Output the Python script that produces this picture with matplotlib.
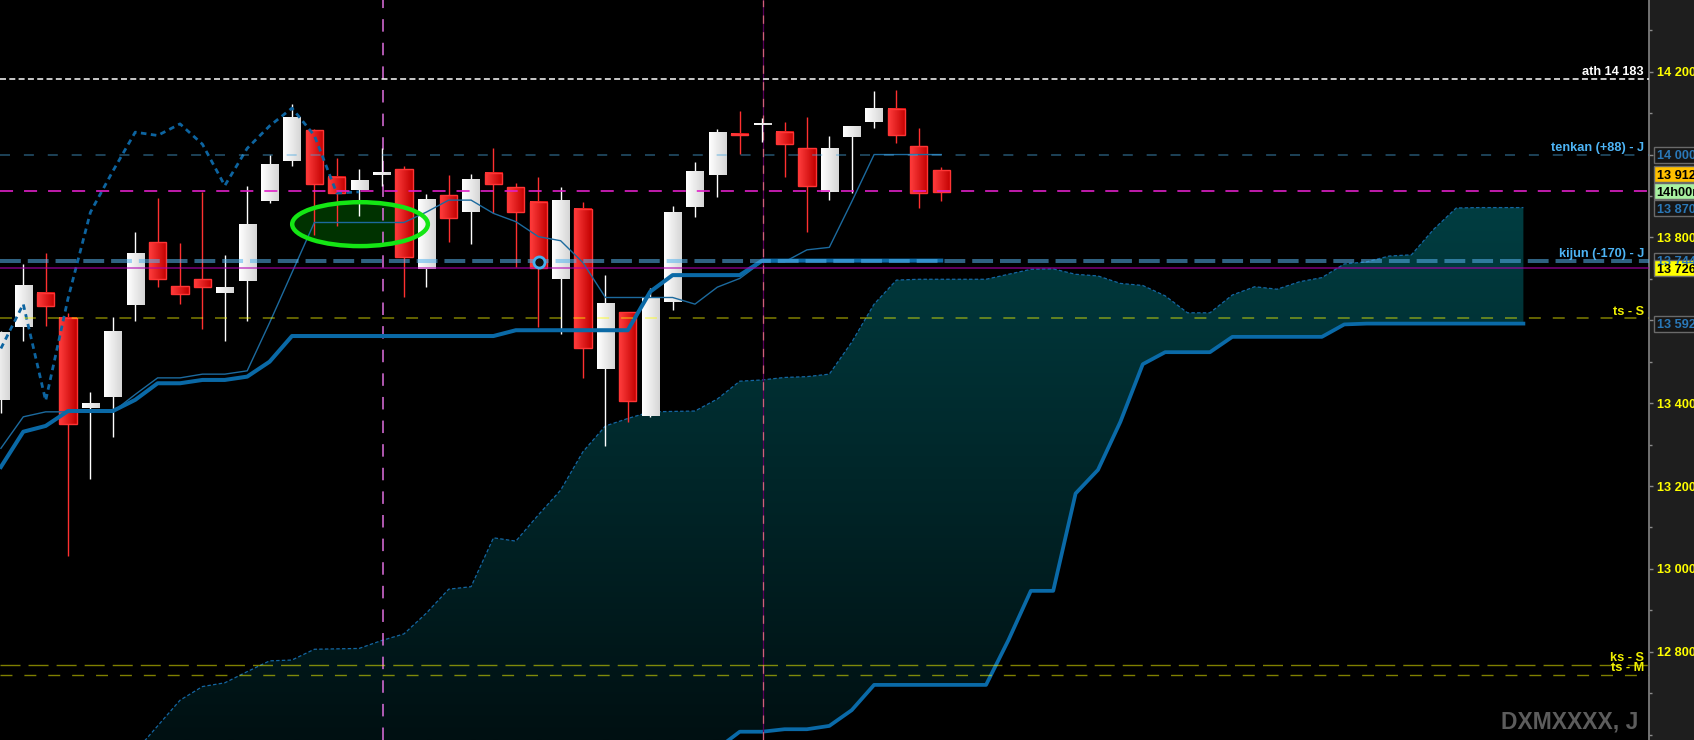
import numpy as np
import matplotlib
matplotlib.use('Agg')
import matplotlib.pyplot as plt
from matplotlib.patches import Rectangle, Ellipse
import matplotlib.transforms as mtransforms
from matplotlib.colors import LinearSegmentedColormap
from matplotlib.ticker import FuncFormatter, MultipleLocator

plt.rcParams['font.family'] = ['Liberation Sans', 'DejaVu Sans']
plt.rcParams['font.weight'] = 'bold'
plt.rcParams['lines.scale_dashes'] = False

# ---------------- data ----------------
opens = [13408, 13584, 13667, 13605, 13388, 13415, 13637, 13788, 13682, 13699,
         13667, 13695, 13889, 13985, 14059, 13947, 13915, 13951, 13964, 13723,
         13902, 13862, 13955, 13921, 13885, 13700, 13868, 13482, 13619, 13370,
         13645, 13874, 13951, 14050, 14073, 14054, 14015, 13910, 14043, 14079,
         14109, 14020, 13962]
highs = [13575, 13736, 13762, 13617, 13426, 13607, 13812, 13894, 13786, 13909,
         13757, 13924, 13999, 14122, 14062, 13991, 13965, 14017, 13972, 13905,
         13951, 13952, 14015, 13931, 13945, 13921, 13885, 13709, 13620, 13677,
         13876, 13983, 14061, 14105, 14088, 14078, 14090, 14045, 14069, 14153,
         14156, 14063, 13970]
lows = [13377, 13551, 13587, 13031, 13218, 13319, 13599, 13680, 13639, 13578,
        13551, 13599, 13884, 13972, 13806, 13828, 13852, 13924, 13657, 13680,
        13790, 13783, 13858, 13729, 13584, 13567, 13461, 13297, 13355, 13367,
        13625, 13850, 13898, 14001, 14030, 13947, 13814, 13890, 13906, 14065,
        14027, 13872, 13889]
closes = [13572, 13683, 13635, 13349, 13398, 13574, 13762, 13700, 13663, 13680,
          13680, 13832, 13977, 14091, 13930, 13908, 13939, 13958, 13753, 13890,
          13848, 13941, 13928, 13861, 13725, 13890, 13532, 13639, 13406, 13653,
          13861, 13960, 14054, 14046, 14074, 14025, 13925, 14015, 14069, 14112,
          14046, 13907, 13910]

tenkan = [13291, 13367, 13379, 13379, 13379, 13379, 13421, 13461, 13461, 13470,
          13470, 13478, 13594, 13715, 13836, 13836, 13836, 13836, 13836, 13861,
          13890, 13890, 13858, 13838, 13802, 13792, 13739, 13655, 13655, 13655,
          13655, 13639, 13680, 13701, 13741, 13741, 13770, 13776, 13886, 14000,
          14000, 14000, 14000]
kijun = [13246, 13331, 13345, 13381, 13381, 13381, 13408, 13448, 13448, 13456,
         13456, 13464, 13500, 13562, 13562, 13562, 13562, 13562, 13562, 13562,
         13562, 13562, 13562, 13576, 13576, 13576, 13576, 13576, 13576, 13669,
         13709, 13709, 13709, 13709, 13744, 13744, 13744, 13744, 13744, 13744,
         13744, 13744, 13744]
CHIKOU_SHIFT = 26

cloud_start = 5
span_a = [12500, 12559, 12621, 12683, 12716, 12725, 12752, 12778, 12780, 12806,
          12807, 12808, 12827, 12843, 12893, 12951, 12957, 13075, 13067, 13130,
          13190, 13283, 13345, 13363, 13379, 13380, 13381, 13410, 13453, 13456,
          13462, 13464, 13470, 13547, 13639, 13697, 13699, 13699, 13699, 13699,
          13711, 13723, 13724, 13711, 13707, 13689, 13684, 13659, 13618, 13618,
          13661, 13681, 13675, 13693, 13703, 13736, 13741, 13755, 13758, 13820,
          13871, 13872, 13872, 13872]
span_b = [12450] * 27 + [12566, 12607, 12607, 12613, 12613, 12621, 12659, 12720,
          12720, 12720, 12720, 12720, 12720, 12828, 12947, 12947, 13182, 13239,
          13355, 13494, 13523, 13523, 13523, 13560, 13560, 13560, 13560, 13560,
          13590, 13592, 13592, 13592, 13592, 13592, 13592, 13592, 13592]

ATH = 14183
TENKAN_LVL = 14000
CURRENT = 13912
KIJUN_LVL = 13744
PURPLE_LVL = 13726
TS_S = 13605
KS_S = 12768
TS_M = 12744
SPAN_A_LAST = 13870
SPAN_B_LAST = 13592
VLINE_A = 17.08
VLINE_B = 34.05
ELLIPSE = (16.04, 13832, 6.06, 106)
CIRCLE = (24.05, 13740)

def fmt(v):
    return f"{int(round(v)):,}".replace(',', ' ')

# ---------------- figure ----------------
W_PX, H_PX = 1694, 740
AX_W = 1649
fig = plt.figure(figsize=(W_PX / 100, H_PX / 100), dpi=100, facecolor='#1e1e1e')
ax = fig.add_axes([0, 0, AX_W / W_PX, 1])
ax.set_facecolor('black')
XL = (-0.04, 73.61)
YL = (12587, 14373)
px_per_unit = H_PX / (YL[1] - YL[0])

n = len(opens)
idx = np.arange(n)

# cloud
cx = np.arange(cloud_start, cloud_start + len(span_a))
poly = ax.fill_between(cx, span_b, span_a, facecolor='none', edgecolor='none', zorder=1)
gradv = np.linspace(0, 1, 256).reshape(-1, 1)
cloud_cmap = LinearSegmentedColormap.from_list('c', ['#003e42', '#001012'])
im = ax.imshow(gradv, cmap=cloud_cmap, extent=[cx[0], cx[-1], YL[0], 13900],
               aspect='auto', zorder=1, interpolation='bilinear')
im.set_clip_path(poly.get_paths()[0], transform=ax.transData)
ax.plot(cx, span_a, color='#1466a2', lw=0.9, dashes=(2.5, 1.6), zorder=2)
ax.plot(cx, span_b, color='#0a6aa8', lw=2.7, zorder=2.5)

# ellipse fill
ax.add_patch(Ellipse(ELLIPSE[:2], ELLIPSE[2], ELLIPSE[3], fc='#003200', ec='none', zorder=3))

# vertical lines
ax.axvline(VLINE_A, color='#e070e0', lw=1.1, dashes=(9, 8), zorder=3.5)
ax.axvline(VLINE_B, color='#580058', lw=0.9, zorder=3.5)
ax.axvline(VLINE_B, color='#d06078', lw=0.9, dashes=(6, 6), zorder=3.6)

# candles
W = 0.77
grad = np.linspace(0, 1, 32).reshape(1, -1)
white_cmap = LinearSegmentedColormap.from_list('w', ['#ffffff', '#d6d6d6'])
red_cmap = LinearSegmentedColormap.from_list('r', ['#ff3d3d', '#c20000'])
for i, (o, h, l, c) in enumerate(zip(opens, highs, lows, closes)):
    up = c >= o
    wc = '#ffffff' if up else '#ff3030'
    ax.vlines(i, l, h, color=wc, lw=1.0, zorder=5)
    lo, hi = min(o, c), max(o, c)
    if hi - lo < 4:
        mid = (hi + lo) / 2
        lo, hi = mid - 2, mid + 2
    ax.imshow(grad, cmap=white_cmap if up else red_cmap,
              extent=[i - W / 2, i + W / 2, lo, hi], aspect='auto',
              zorder=6, interpolation='bilinear')
    if not up:
        ax.add_patch(Rectangle((i - W / 2, lo), W, hi - lo, fill=False,
                               ec='#ff3535', lw=1.0, zorder=6.5))

# ichimoku lines
ax.plot(idx, tenkan, color='#1c6a9e', lw=1.0, zorder=8)
ax.plot(idx, kijun, color='#0a69a6', lw=2.9, zorder=8)
ch = closes[CHIKOU_SHIFT:]
ax.plot(np.arange(len(ch)), ch, color='#0d64a0', lw=2.0, dashes=(4, 3.2), zorder=8)

# horizontal levels
ax.axhline(ATH, color='white', lw=1.1, dashes=(4.3, 2.4), zorder=9)
ax.axhline(TENKAN_LVL, color='#4aa8e0', alpha=0.5, lw=1.1, dashes=(7.2, 10), zorder=9)
ax.axhline(CURRENT, color='#e020c8', lw=1.2, dashes=(9.4, 7.9), zorder=9)
ax.axhline(KIJUN_LVL, color='#56b4ee', alpha=0.55, lw=2.9, dashes=(15, 5), zorder=9)
ax.axhline(PURPLE_LVL, color='#b000b0', alpha=0.7, lw=1.1, zorder=9)
ax.axhline(TS_S, color='#ffff00', alpha=0.5, lw=1.1, dashes=(8.6, 8.6), zorder=9)
ax.axhline(KS_S, color='#ffff00', alpha=0.5, lw=1.0, dashes=(14.4, 5.8), zorder=9)
ax.axhline(TS_M, color='#ffff00', alpha=0.5, lw=1.0, dashes=(8.6, 8.6), zorder=9)

# ellipse outline, circle marker
ax.add_patch(Ellipse(ELLIPSE[:2], ELLIPSE[2], ELLIPSE[3], fill=False,
                     ec='#14e614', lw=3.2, zorder=10))
ax.plot([CIRCLE[0]], [CIRCLE[1]], 'o', ms=8, mfc='#111111', mec='#45b0f0',
        mew=2.0, zorder=11)

ax.set_xlim(*XL)
ax.set_ylim(*YL)

# level labels inside plot
trans = mtransforms.blended_transform_factory(ax.transAxes, ax.transData)
lab_x = 1644 / AX_W
level_labels = [
    (ATH, f"ath {fmt(ATH)}", '#ffffff'),
    (TENKAN_LVL, "tenkan (+88) - J", '#4db4f5'),
    (KIJUN_LVL, "kijun (-170) - J", '#4db4f5'),
    (TS_S, "ts - S", '#f0f000'),
    (KS_S, "ks - S", '#f0f000'),
    (TS_M, "ts - M", '#f0f000'),
]
for v, t, col in level_labels:
    ax.annotate(t, xy=(lab_x, v), xycoords=trans, xytext=(0, 2.6),
                textcoords='offset points', ha='right', va='baseline',
                color=col, fontsize=9.2, fontweight='bold', zorder=12)

# axis
for s in ['top', 'left', 'bottom']:
    ax.spines[s].set_visible(False)
ax.spines['right'].set_color('#7a7a7a')
ax.spines['right'].set_linewidth(1.3)
ax.set_xticks([])
ax.yaxis.tick_right()
ax.set_yticks(np.arange(12800, 14201, 200))
ax.yaxis.set_minor_locator(MultipleLocator(100))
ax.yaxis.set_major_formatter(FuncFormatter(lambda v, p: fmt(v)))
ax.tick_params(axis='y', which='major', colors='#8a8a8a', labelcolor='#ffff00',
               length=3, width=1, pad=2.6, labelsize=9.2)
ax.tick_params(axis='y', which='minor', colors='#8a8a8a', length=2, width=1)

# price boxes on axis
box_h = 16 / px_per_unit
bx0 = 1654 / AX_W
bw = 60 / AX_W
tx = 1656.7 / AX_W
boxes = [
    (TENKAN_LVL, 0, fmt(TENKAN_LVL), '#161616', '#2a78b8'),
    (SPAN_A_LAST, 0, fmt(SPAN_A_LAST), '#161616', '#2a78b8'),
    (CURRENT, 0, "14h00m", '#a8f0a0', '#000000'),
    (CURRENT, 17, fmt(CURRENT), '#ffc000', '#000000'),
    (KIJUN_LVL, 0, fmt(KIJUN_LVL), '#161616', '#2a78b8'),
    (PURPLE_LVL, 0, fmt(PURPLE_LVL), '#ffff00', '#000000'),
    (SPAN_B_LAST, 0, fmt(SPAN_B_LAST), '#161616', '#2a78b8'),
]
for v, dy_px, t, fc, tc in boxes:
    tr = mtransforms.offset_copy(trans, fig=fig, x=0, y=dy_px * 0.72, units='points')
    ax.add_patch(Rectangle((bx0, v - box_h / 2), bw, box_h, transform=tr,
                           fc=fc, ec='#6a6a6a', lw=1.0, clip_on=False, zorder=20))
    ax.text(tx, v, t, transform=tr, ha='left', va='center_baseline', color=tc,
            fontsize=9.2, fontweight='bold', clip_on=False, zorder=21)

fig.text(1638 / W_PX, 1 - 729 / H_PX, "DXMXXXX, J", ha='right', va='baseline',
         fontsize=16.5, color='#5c5c5c', fontweight='bold')

fig.savefig('out.png', dpi=100, facecolor=fig.get_facecolor())
